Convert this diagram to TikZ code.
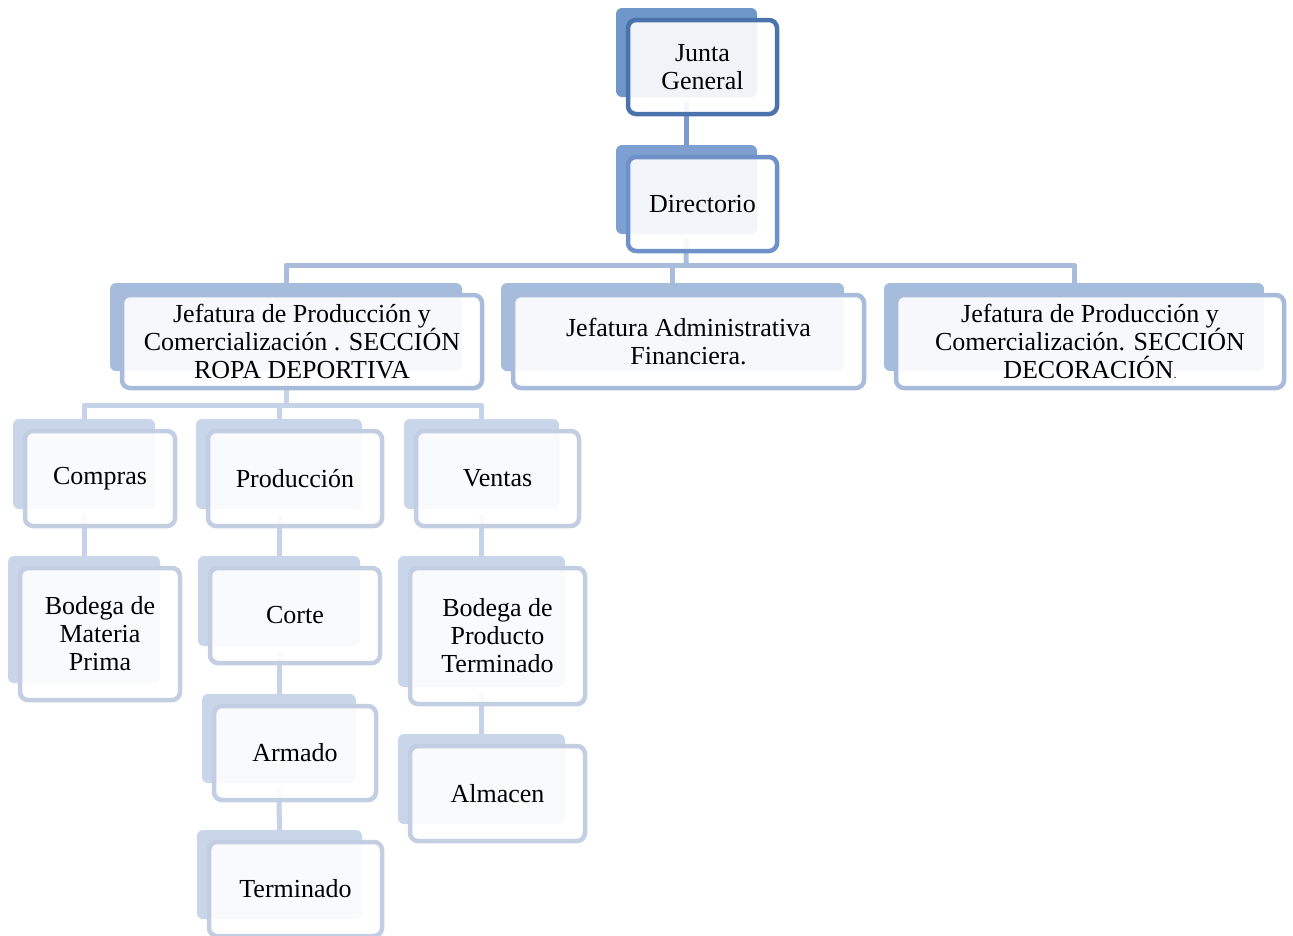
\documentclass[tikz,border=0pt]{standalone}
\usepackage{fontspec}
\setmainfont{Liberation Serif}
\usetikzlibrary{calc}
\pgfdeclarelayer{bg}
\pgfdeclarelayer{mid}
\pgfsetlayers{bg,mid,main}

\definecolor{backA}{HTML}{6F96C8}
\definecolor{frontA}{HTML}{4A73AC}
\definecolor{backB}{HTML}{7EA0D0}
\definecolor{frontB}{HTML}{6E92C8}
\definecolor{backC}{HTML}{A6BCDC}
\definecolor{frontC}{HTML}{A9BBDA}
\definecolor{backD}{HTML}{C9D6EA}
\definecolor{frontD}{HTML}{C3CEE3}
\definecolor{linkA}{HTML}{7C9BCB}
\definecolor{linkC}{HTML}{A9BCDB}
\definecolor{linkD}{HTML}{C6D2E7}

\tikzset{
	frontbox/.style={rectangle, rounded corners=8pt, line width=4.5pt, fill=white, fill opacity=0.9, text opacity=1, inner sep=0pt, outer sep=0pt, align=center, font=\fontsize{26}{28}\selectfont},
	link/.style={line width=5pt, line join=round}
}
% #1 name, #2 level, #3 #4 centre, #5 #6 size, #7 text
\newcommand\orgbox[7]{
	\node[frontbox, draw=front#2, minimum width=#5pt, minimum height=#6pt] (#1) at (#3, #4) {#7};
	\begin{pgfonlayer}{mid}
		\fill[back#2, rounded corners=6pt] ([xshift=-12pt, yshift=12pt]#1.north west) rectangle ([xshift=-20pt, yshift=17pt]#1.south east);
	\end{pgfonlayer}
}

\begin{document}
\begin{tikzpicture}[x=1pt, y=-1pt]
		%%%%% START %%%%%
		\useasboundingbox (0, 0) rectangle (1293, 935);
		
		\orgbox{junta}{A}{702.5}{67}{149}{94}{Junta\\General}
		\orgbox{dir}{B}{702.5}{204}{149}{94}{Directorio}
		
		\orgbox{ropa}{C}{302}{341.5}{360}{93}{Jefatura de Producción y\\Comercialización . SECCIÓN\\ROPA DEPORTIVA}
		\orgbox{admin}{C}{688.5}{341.5}{351}{93}{Jefatura Administrativa\\Financiera.}
		\orgbox{deco}{C}{1090}{341.5}{388}{93}{Jefatura de Producción y\\Comercialización. SECCIÓN\\DECORACIÓN{\fontsize{12}{12}\selectfont.}}
		
		\orgbox{compras}{D}{100}{478.5}{150}{95}{Compras}
		\orgbox{produccion}{D}{295}{478.5}{174}{95}{Producción}
		\orgbox{ventas}{D}{497.5}{478.5}{163}{95}{Ventas}
		
		\orgbox{bodegamp}{D}{100}{634}{160}{132}{Bodega de\\Materia\\Prima}
		\orgbox{corte}{D}{295}{615.5}{170}{95}{Corte}
		\orgbox{armado}{D}{295}{753}{162}{94}{Armado}
		\orgbox{terminado}{D}{295.5}{889}{173}{94}{Terminado}
		\orgbox{bodegapt}{D}{497.5}{636}{175}{136}{Bodega de\\Producto\\Terminado}
		\orgbox{almacen}{D}{497.5}{793.5}{175}{95}{Almacen}
		
		%%%%% CONNECTORS %%%%%
		\coordinate (busA) at (686, 265);
		\coordinate (busB) at (286, 405);
		
		\begin{pgfonlayer}{bg}
			\draw[link, color=linkA] ([xshift=-16pt, yshift=12pt]junta.south) -- ([xshift=-16pt]dir.north);
			
			\draw[link, color=linkC] ([xshift=-16pt, yshift=12pt]dir.south) -- (busA);
			\draw[link, color=linkC] ([xshift=-16pt]ropa.north) |- (busA) -| ([xshift=-16pt]deco.north);
			\draw[link, color=linkC] ([xshift=-16pt]admin.north) -- ([xshift=-16pt]admin.north |- busA);
			
			\draw[link, color=linkD] ([xshift=-16pt, yshift=12pt]ropa.south) -- (busB);
			\draw[link, color=linkD] ([xshift=-16pt]compras.north) |- (busB) -| ([xshift=-16pt]ventas.north);
			\draw[link, color=linkD] ([xshift=-16pt]produccion.north) -- ([xshift=-16pt]produccion.north |- busB);
			
			\draw[link, color=linkD] ([xshift=-16pt, yshift=12pt]compras.south) -- ([xshift=-16pt]bodegamp.north);
			\draw[link, color=linkD] ([xshift=-16pt, yshift=12pt]produccion.south) -- ([xshift=-16pt]corte.north);
			\draw[link, color=linkD] ([xshift=-16pt, yshift=12pt]corte.south) -- ([xshift=-16pt]armado.north);
			\draw[link, color=linkD] ([xshift=-16pt, yshift=12pt]armado.south) -- ([xshift=-16pt]terminado.north);
			\draw[link, color=linkD] ([xshift=-16pt, yshift=12pt]ventas.south) -- ([xshift=-16pt]bodegapt.north);
			\draw[link, color=linkD] ([xshift=-16pt, yshift=12pt]bodegapt.south) -- ([xshift=-16pt]almacen.north);
		\end{pgfonlayer}
		
		%%%%% END %%%%%
	\end{tikzpicture}
\end{document}
